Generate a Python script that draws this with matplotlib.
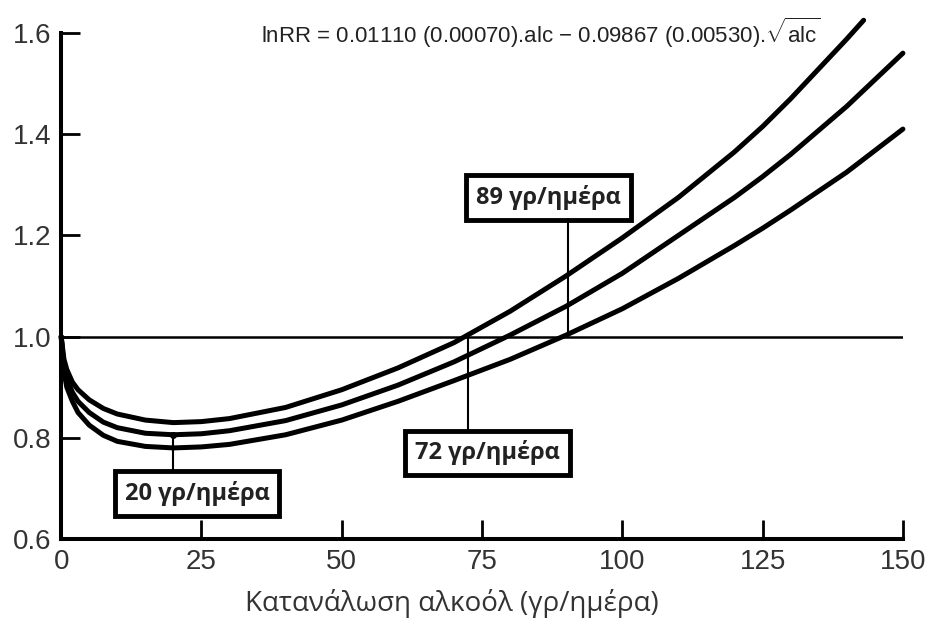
import matplotlib.pyplot as plt

plt.rcParams['font.family'] = ['Liberation Sans', 'DejaVu Sans']
plt.rcParams['mathtext.fontset'] = 'custom'
plt.rcParams['mathtext.rm'] = 'Liberation Sans'
plt.rcParams['mathtext.it'] = 'Liberation Sans'

# values (relative risk vs alcohol g/day)
alc = [0, 0.5, 1, 2, 3, 5, 7.5, 10, 15, 20, 25, 30, 40, 50, 60, 70, 80, 90,
       100, 110, 120, 125, 130, 140, 150]
rr_upper = [1.0, 0.955, 0.935, 0.91, 0.895, 0.875, 0.858, 0.847, 0.835, 0.83,
            0.832, 0.838, 0.86, 0.895, 0.938, 0.988, 1.05, 1.12,
            1.195, 1.275, 1.365, 1.415, 1.47, 1.588, None]
rr_mid = [1.0, 0.94, 0.918, 0.89, 0.872, 0.85, 0.831, 0.82, 0.809, 0.806,
          0.808, 0.814, 0.834, 0.865, 0.904, 0.95, 1.003, 1.06,
          1.125, 1.2, 1.275, 1.316, 1.36, 1.455, 1.56]
rr_lower = [1.0, 0.93, 0.9, 0.872, 0.85, 0.825, 0.805, 0.793, 0.783, 0.78,
            0.782, 0.787, 0.806, 0.835, 0.872, 0.913, 0.955, 1.003,
            1.055, 1.115, 1.18, 1.214, 1.25, 1.325, 1.41]
# upper band leaves the frame at the top
upper_end = (143, 1.625)

thresholds = [20, 72.5, 90.4]
threshold_labels = ['20 γρ/ημέρα', '72 γρ/ημέρα', '89 γρ/ημέρα']

equation = r'lnRR = 0.01110 (0.00070).alc $-$ 0.09867 (0.00530).$\sqrt{\mathrm{alc}}$'

fig = plt.figure(figsize=(9.27, 6.21), dpi=100)
ax = fig.add_axes([0.066, 0.132, 0.908, 0.815])

xu = [x for x, y in zip(alc, rr_upper) if y is not None] + [upper_end[0]]
yu = [y for y in rr_upper if y is not None] + [upper_end[1]]
ax.plot(xu, yu, color='black', lw=3.6, clip_on=False, solid_capstyle='round')
ax.plot(alc, rr_mid, color='black', lw=3.6, clip_on=False, solid_capstyle='round')
ax.plot(alc, rr_lower, color='black', lw=3.6, clip_on=False, solid_capstyle='round')

ax.axhline(1.0, color='black', lw=1.8)

# marker lines to the boxes
ax.plot([thresholds[0], thresholds[0]], [0.806, 0.73], color='black', lw=1.5)
ax.plot([thresholds[0]], [0.806], 'o', color='black', ms=4)
ax.plot([thresholds[1], thresholds[1]], [1.0, 0.81], color='black', lw=1.5)
ax.plot([thresholds[2], thresholds[2]], [1.0, 1.23], color='black', lw=1.5)

box = dict(boxstyle='square,pad=0.42', fc='white', ec='black', lw=3.5)
box_pos = [(24.2, 0.69), (76.0, 0.77), (86.9, 1.275)]
for (bx, by), lab in zip(box_pos, threshold_labels):
    ax.text(bx, by, lab, ha='center', va='center', fontsize=17,
            fontweight='bold', family=['Open Sans', 'DejaVu Sans'],
            color='#222222', bbox=box, zorder=5)

ax.text(85.5, 1.6, equation, ha='center', va='center', fontsize=16,
        color='#222222')

ax.set_xlim(0, 150)
ax.set_ylim(0.6, 1.6)
ax.set_xticks([0, 25, 50, 75, 100, 125, 150])
ax.set_yticks([0.6, 0.8, 1.0, 1.2, 1.4, 1.6])
ax.set_yticklabels(['0.6', '0.8', '1.0', '1.2', '1.4', '1.6'])
ax.tick_params(direction='in', length=14, width=2.0, labelsize=20,
               labelcolor='#333333', pad=7)

for side in ['top', 'right']:
    ax.spines[side].set_visible(False)
for side in ['left', 'bottom']:
    ax.spines[side].set_linewidth(2.9)

ax.set_xlabel('Κατανάλωση αλκοόλ (γρ/ημέρα)', fontsize=20,
              family=['Open Sans', 'DejaVu Sans'], color='#333333', va='center')
ax.xaxis.set_label_coords(0.464, -0.128)

fig.savefig('out.png', dpi=100)
